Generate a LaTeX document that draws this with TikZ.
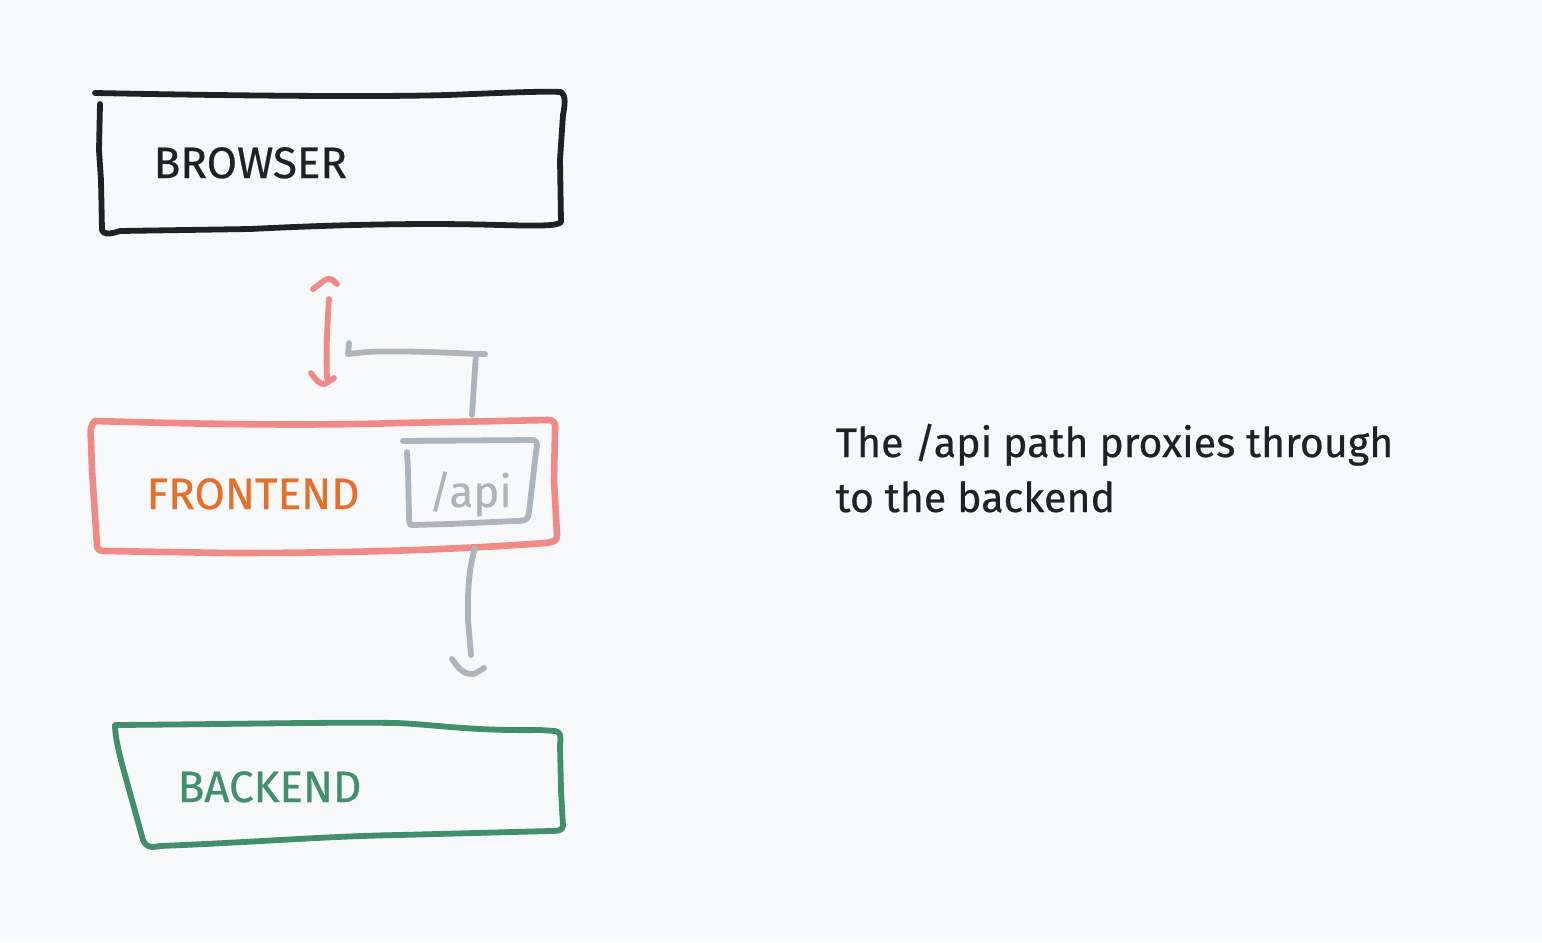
\documentclass[tikz,border=0pt]{standalone}
\usepackage{fontspec}
\setmainfont{Fira Sans}[FakeBold=0.5]
\usetikzlibrary{positioning}
\definecolor{paper}{HTML}{F8F9FB}
\definecolor{ink}{HTML}{202124}
\definecolor{fered}{HTML}{F08A86}
\definecolor{feorange}{HTML}{E5702C}
\definecolor{proxygrey}{HTML}{AEB4BC}
\definecolor{begreen}{HTML}{418F6B}
\begin{document}
\begin{tikzpicture}[
  x=0.01cm, y=-0.01cm,
  sketch/.style={line width=0.058cm, line cap=round, line join=round},
  boxlabel/.style={anchor=base west, inner sep=0pt, font=\fontsize{12.5}{15}\selectfont},
  notetext/.style={anchor=base west, inner sep=0pt, text=ink, font=\fontsize{11.7}{14}\selectfont}
]
\fill[paper] (0,0) rectangle (1542,942);
\useasboundingbox (0,0) rectangle (1542,942);

\draw[sketch, ink] (95,93) .. controls (250,96) and (380,97) .. (447,95) .. controls (500,93) and (540,91) .. (561,92)
  .. controls (566,95) and (565,105) .. (563,115) -- (560,160) -- (561,222)
  .. controls (558,226) and (540,226) .. (500,225) .. controls (430,223) and (350,224) .. (250,229) -- (120,231)
  .. controls (108,235) and (103,234) .. (102,230) -- (101,180) -- (99,150) -- (100,104);
\node[boxlabel, text=ink] (browser) at (153,178) {BROWSER};

\draw[sketch, fered, line width=0.066cm] (95,421) .. controls (200,424) and (300,426) .. (400,423) -- (548,420)
  .. controls (555,420) and (556,424) .. (555,432) -- (554,480) -- (557,535)
  .. controls (557,541) and (554,542) .. (545,543) .. controls (450,550) and (350,553) .. (230,553) -- (105,551)
  .. controls (99,551) and (97,549) .. (97,545) -- (92,470) -- (91,440) .. controls (90,430) and (91,424) .. (95,421);
\node[boxlabel, text=feorange] (frontend) at (146,509) {FRONTEND};

\draw[sketch, proxygrey] (403,441) -- (532,440) .. controls (537,440) and (538,443) .. (536,452) -- (529,512)
  .. controls (528,520) and (526,521) .. (515,521) -- (450,524) -- (411,525) .. controls (409,524) and (409,520) .. (409,515)
  -- (408,470) -- (407,452);
\node[boxlabel, text=proxygrey] (api) at (428,507) {/api};

\draw[sketch, begreen] (115,725) .. controls (250,724) and (330,722) .. (397,723) .. controls (440,725) and (470,731) .. (540,730)
  -- (555,731) .. controls (561,732) and (561,736) .. (560,745) -- (561,790) -- (563,826)
  .. controls (562,830) and (560,831) .. (550,831) -- (400,835) .. controls (330,836) and (260,842) .. (160,846)
  .. controls (150,848) and (146,847) .. (143,840) -- (125,775) .. controls (118,750) and (115,735) .. (115,725);
\node[boxlabel, text=begreen] (backend) at (177,802) {BACKEND};

\coordinate (duplextop) at (329,299);
\coordinate (duplexbot) at (327,378);
\draw[sketch, fered] (duplextop) .. controls (327,330) and (326,350) .. (duplexbot);
\draw[sketch, fered] (313,289) -- (325,280) .. controls (330,277) and (333,280) .. (337,284);
\draw[sketch, fered] (311,373) .. controls (316,380) and (320,385) .. (325,384) -- (334,378);

\coordinate (proxyup) at (472,415);
\coordinate (proxybend) at (476,354);
\coordinate (proxyleft) at (348,354);
\draw[sketch, proxygrey] (proxyup) -- (proxybend);
\draw[sketch, proxygrey] (485,354) -- (proxybend) .. controls (420,351) and (380,351) .. (367,352) -- (proxyleft) -- (349,343);

\coordinate (proxydown) at (475,548);
\coordinate (proxyend) at (471,655);
\draw[sketch, proxygrey] (proxydown) .. controls (467,575) and (468,600) .. (468,620) -- (proxyend);
\draw[sketch, proxygrey] (452,659) .. controls (458,668) and (464,675) .. (474,674) -- (484,668);

\node[notetext] (noteone) at (835,457) {The /api path proxies through};
\node[notetext] (notetwo) at (835,512) {to the backend};
\end{tikzpicture}
\end{document}
